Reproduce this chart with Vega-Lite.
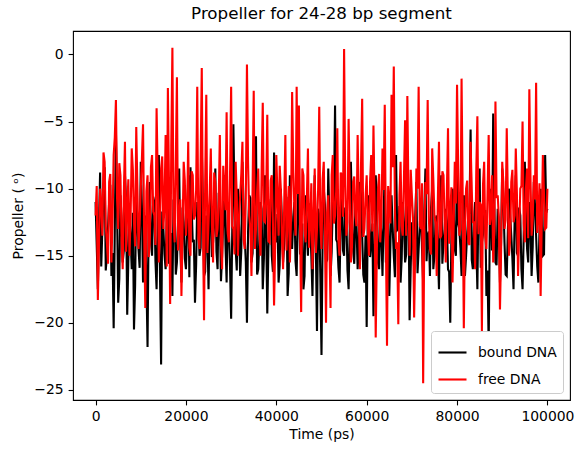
{
  "$schema": "https://vega.github.io/schema/vega-lite/v6.json",
  "width": 497,
  "height": 369,
  "autosize": {"type": "none"},
  "padding": {"left": 73, "top": 31, "right": 13, "bottom": 53},
  "background": "white",
  "config": {
    "font": "DejaVu Sans",
    "view": {"stroke": "black", "strokeWidth": 1.1},
    "axis": {"grid": false, "domain": false, "tickColor": "black", "tickWidth": 1.1, "tickSize": 4.9, "labelPadding": 4.9, "labelColor": "black", "labelFontSize": 13.9, "titleFontSize": 13.9, "titleFontWeight": "normal", "titleColor": "black", "labelFont": "DejaVu Sans", "titleFont": "DejaVu Sans"},
    "title": {"font": "DejaVu Sans", "fontSize": 16.7, "fontWeight": "normal", "color": "black", "offset": 8}
  },
  "title": {"text": "Propeller for 24-28 bp segment", "anchor": "middle"},
  "data": {"values": [
{"t":0,"bound DNA":-11.0,"free DNA":-12.0},
{"t":500,"bound DNA":-17.5,"free DNA":-18.3},
{"t":1000,"bound DNA":-8.8,"free DNA":-10.0},
{"t":1500,"bound DNA":-13.0,"free DNA":-13.5},
{"t":2000,"bound DNA":-8.4,"free DNA":-8.0},
{"t":2500,"bound DNA":-15.0,"free DNA":-14.0},
{"t":3000,"bound DNA":-11.0,"free DNA":-9.5},
{"t":3500,"bound DNA":-16.5,"free DNA":-15.5},
{"t":4000,"bound DNA":-20.4,"free DNA":-7.5},
{"t":4500,"bound DNA":-5.8,"free DNA":-3.4},
{"t":5000,"bound DNA":-18.5,"free DNA":-13.0},
{"t":5500,"bound DNA":-10.5,"free DNA":-9.0},
{"t":6000,"bound DNA":-15.5,"free DNA":-16.0},
{"t":6500,"bound DNA":-9.0,"free DNA":-6.5},
{"t":7000,"bound DNA":-19.4,"free DNA":-11.5},
{"t":7500,"bound DNA":-12.0,"free DNA":-15.0},
{"t":8000,"bound DNA":-16.0,"free DNA":-7.0},
{"t":8500,"bound DNA":-20.5,"free DNA":-12.5},
{"t":9000,"bound DNA":-10.0,"free DNA":-5.4},
{"t":9500,"bound DNA":-14.5,"free DNA":-14.5},
{"t":10000,"bound DNA":-8.0,"free DNA":-10.0},
{"t":10500,"bound DNA":-17.0,"free DNA":-5.2},
{"t":11000,"bound DNA":-12.0,"free DNA":-18.9},
{"t":11500,"bound DNA":-21.8,"free DNA":-9.0},
{"t":12000,"bound DNA":-9.5,"free DNA":-14.0},
{"t":12500,"bound DNA":-15.0,"free DNA":-7.5},
{"t":13000,"bound DNA":-11.0,"free DNA":-12.0},
{"t":13500,"bound DNA":-17.5,"free DNA":-4.0},
{"t":14000,"bound DNA":-7.5,"free DNA":-15.5},
{"t":14500,"bound DNA":-23.1,"free DNA":-8.5},
{"t":15000,"bound DNA":-13.0,"free DNA":-13.0},
{"t":15500,"bound DNA":-16.0,"free DNA":-6.0},
{"t":16000,"bound DNA":-9.5,"free DNA":-2.5},
{"t":16500,"bound DNA":-14.5,"free DNA":-18.6},
{"t":17000,"bound DNA":-18.0,"free DNA":0.5},
{"t":17500,"bound DNA":-11.0,"free DNA":-14.0},
{"t":18000,"bound DNA":-15.5,"free DNA":-1.7},
{"t":18500,"bound DNA":-8.5,"free DNA":-12.0},
{"t":19000,"bound DNA":-17.0,"free DNA":-18.0},
{"t":19500,"bound DNA":-12.5,"free DNA":-8.0},
{"t":20000,"bound DNA":-16.0,"free DNA":-13.5},
{"t":20500,"bound DNA":-9.0,"free DNA":-6.5},
{"t":21000,"bound DNA":-8.4,"free DNA":-15.0},
{"t":21500,"bound DNA":-14.0,"free DNA":-9.0},
{"t":22000,"bound DNA":-18.5,"free DNA":-12.0},
{"t":22500,"bound DNA":-11.0,"free DNA":-2.4},
{"t":23000,"bound DNA":-15.0,"free DNA":-14.5},
{"t":23500,"bound DNA":-7.0,"free DNA":-1.0},
{"t":24000,"bound DNA":-16.5,"free DNA":-19.8},
{"t":24500,"bound DNA":-12.0,"free DNA":-3.0},
{"t":25000,"bound DNA":-17.5,"free DNA":-12.5},
{"t":25500,"bound DNA":-10.0,"free DNA":-7.0},
{"t":26000,"bound DNA":-14.0,"free DNA":-15.5},
{"t":26500,"bound DNA":-8.5,"free DNA":-9.5},
{"t":27000,"bound DNA":-16.0,"free DNA":-13.0},
{"t":27500,"bound DNA":-11.5,"free DNA":-6.0},
{"t":28000,"bound DNA":-15.0,"free DNA":-16.0},
{"t":28500,"bound DNA":-9.0,"free DNA":-10.0},
{"t":29000,"bound DNA":-17.0,"free DNA":-4.3},
{"t":29500,"bound DNA":-13.0,"free DNA":-14.0},
{"t":30000,"bound DNA":-19.7,"free DNA":-2.4},
{"t":30500,"bound DNA":-5.2,"free DNA":-13.0},
{"t":31000,"bound DNA":-14.5,"free DNA":-8.0},
{"t":31500,"bound DNA":-10.0,"free DNA":-15.0},
{"t":32000,"bound DNA":-16.5,"free DNA":-10.5},
{"t":32500,"bound DNA":-8.0,"free DNA":-6.5},
{"t":33000,"bound DNA":-13.5,"free DNA":-14.5},
{"t":33500,"bound DNA":-20.0,"free DNA":-0.75},
{"t":34000,"bound DNA":-10.5,"free DNA":-12.0},
{"t":34500,"bound DNA":-15.5,"free DNA":-16.5},
{"t":35000,"bound DNA":-8.5,"free DNA":-2.7},
{"t":35500,"bound DNA":-6.1,"free DNA":-13.0},
{"t":36000,"bound DNA":-16.0,"free DNA":-8.5},
{"t":36500,"bound DNA":-11.0,"free DNA":-15.0},
{"t":37000,"bound DNA":-17.5,"free DNA":-3.6},
{"t":37500,"bound DNA":-9.0,"free DNA":-12.5},
{"t":38000,"bound DNA":-19.3,"free DNA":-4.5},
{"t":38500,"bound DNA":-12.0,"free DNA":-14.0},
{"t":39000,"bound DNA":-15.0,"free DNA":-9.0},
{"t":39500,"bound DNA":-7.3,"free DNA":-18.7},
{"t":40000,"bound DNA":-14.0,"free DNA":-7.5},
{"t":40500,"bound DNA":-17.0,"free DNA":-13.5},
{"t":41000,"bound DNA":-10.0,"free DNA":-10.0},
{"t":41500,"bound DNA":-15.5,"free DNA":-16.0},
{"t":42000,"bound DNA":-12.0,"free DNA":-6.0},
{"t":42500,"bound DNA":-18.0,"free DNA":-12.0},
{"t":43000,"bound DNA":-9.0,"free DNA":-15.5},
{"t":43500,"bound DNA":-14.5,"free DNA":-2.8},
{"t":44000,"bound DNA":-11.0,"free DNA":-11.5},
{"t":44500,"bound DNA":-16.5,"free DNA":-2.4},
{"t":45000,"bound DNA":-8.0,"free DNA":-3.8},
{"t":45500,"bound DNA":-13.5,"free DNA":-19.2},
{"t":46000,"bound DNA":-17.5,"free DNA":-9.0},
{"t":46500,"bound DNA":-10.5,"free DNA":-14.0},
{"t":47000,"bound DNA":-15.0,"free DNA":-7.0},
{"t":47500,"bound DNA":-12.5,"free DNA":-12.5},
{"t":48000,"bound DNA":-18.0,"free DNA":-16.0},
{"t":48500,"bound DNA":-9.0,"free DNA":-8.5},
{"t":49000,"bound DNA":-20.6,"free DNA":-13.0},
{"t":49500,"bound DNA":-12.0,"free DNA":-3.9},
{"t":50000,"bound DNA":-22.4,"free DNA":-14.5},
{"t":50500,"bound DNA":-10.0,"free DNA":-8.0},
{"t":51000,"bound DNA":-15.5,"free DNA":-20.0},
{"t":51500,"bound DNA":-8.5,"free DNA":-10.5},
{"t":52000,"bound DNA":-16.5,"free DNA":-18.9},
{"t":52500,"bound DNA":-11.0,"free DNA":-7.5},
{"t":53000,"bound DNA":-3.8,"free DNA":-12.0},
{"t":53500,"bound DNA":-14.0,"free DNA":-5.5},
{"t":54000,"bound DNA":-17.0,"free DNA":-15.0},
{"t":54500,"bound DNA":-9.5,"free DNA":-9.0},
{"t":55000,"bound DNA":-15.0,"free DNA":0.4},
{"t":55500,"bound DNA":-12.0,"free DNA":-13.5},
{"t":56000,"bound DNA":-17.5,"free DNA":-4.8},
{"t":56500,"bound DNA":-8.0,"free DNA":-15.5},
{"t":57000,"bound DNA":-14.5,"free DNA":-9.5},
{"t":57500,"bound DNA":-11.0,"free DNA":-12.0},
{"t":58000,"bound DNA":-16.0,"free DNA":-6.0},
{"t":58500,"bound DNA":-9.5,"free DNA":-16.0},
{"t":59000,"bound DNA":-13.5,"free DNA":-3.3},
{"t":59500,"bound DNA":-17.0,"free DNA":-13.0},
{"t":60000,"bound DNA":-20.3,"free DNA":-9.0},
{"t":60500,"bound DNA":-10.5,"free DNA":-15.0},
{"t":61000,"bound DNA":-14.0,"free DNA":-7.5},
{"t":61500,"bound DNA":-19.5,"free DNA":-5.3},
{"t":62000,"bound DNA":-9.0,"free DNA":-21.1},
{"t":62500,"bound DNA":-15.5,"free DNA":-10.0},
{"t":63000,"bound DNA":-12.0,"free DNA":-14.0},
{"t":63500,"bound DNA":-16.5,"free DNA":-7.0},
{"t":64000,"bound DNA":-8.5,"free DNA":-3.75},
{"t":64500,"bound DNA":-14.0,"free DNA":-21.7},
{"t":65000,"bound DNA":-18.0,"free DNA":-11.0},
{"t":65500,"bound DNA":-10.5,"free DNA":-3.0},
{"t":66000,"bound DNA":-15.0,"free DNA":-0.9},
{"t":66500,"bound DNA":-7.5,"free DNA":-14.5},
{"t":67000,"bound DNA":-13.0,"free DNA":-20.1},
{"t":67500,"bound DNA":-17.0,"free DNA":-8.0},
{"t":68000,"bound DNA":-11.0,"free DNA":-13.5},
{"t":68500,"bound DNA":-15.5,"free DNA":-4.9},
{"t":69000,"bound DNA":-8.0,"free DNA":-3.1},
{"t":69500,"bound DNA":-19.8,"free DNA":-15.0},
{"t":70000,"bound DNA":-12.5,"free DNA":-10.5},
{"t":70500,"bound DNA":-16.0,"free DNA":-19.6},
{"t":71000,"bound DNA":-9.5,"free DNA":-8.5},
{"t":71500,"bound DNA":-14.5,"free DNA":-2.4},
{"t":72000,"bound DNA":-11.0,"free DNA":-13.0},
{"t":72500,"bound DNA":-17.0,"free DNA":-24.5},
{"t":73000,"bound DNA":-8.5,"free DNA":-9.5},
{"t":73500,"bound DNA":-13.5,"free DNA":-3.4},
{"t":74000,"bound DNA":-16.5,"free DNA":-14.5},
{"t":74500,"bound DNA":-10.0,"free DNA":-7.0},
{"t":75000,"bound DNA":-15.0,"free DNA":-12.0},
{"t":75500,"bound DNA":-12.0,"free DNA":-16.5},
{"t":76000,"bound DNA":-17.5,"free DNA":-6.5},
{"t":76500,"bound DNA":-9.0,"free DNA":-13.5},
{"t":77000,"bound DNA":-14.0,"free DNA":-9.0},
{"t":77500,"bound DNA":-11.5,"free DNA":-15.5},
{"t":78000,"bound DNA":-16.0,"free DNA":-5.5},
{"t":78500,"bound DNA":-20.0,"free DNA":-12.0},
{"t":79000,"bound DNA":-10.0,"free DNA":-17.0},
{"t":79500,"bound DNA":-14.5,"free DNA":-8.0},
{"t":80000,"bound DNA":-7.0,"free DNA":-2.25},
{"t":80500,"bound DNA":-13.0,"free DNA":-13.5},
{"t":81000,"bound DNA":-16.5,"free DNA":-1.8},
{"t":81500,"bound DNA":-10.5,"free DNA":-20.4},
{"t":82000,"bound DNA":-15.0,"free DNA":-10.0},
{"t":82500,"bound DNA":-12.0,"free DNA":-14.0},
{"t":83000,"bound DNA":-5.6,"free DNA":-6.5},
{"t":83500,"bound DNA":-16.0,"free DNA":-12.5},
{"t":84000,"bound DNA":-11.0,"free DNA":-16.0},
{"t":84500,"bound DNA":-17.5,"free DNA":-4.6},
{"t":85000,"bound DNA":-8.5,"free DNA":-11.0},
{"t":85500,"bound DNA":-14.0,"free DNA":-20.6},
{"t":86000,"bound DNA":-12.0,"free DNA":-8.0},
{"t":86500,"bound DNA":-18.0,"free DNA":-14.5},
{"t":87000,"bound DNA":-21.7,"free DNA":-6.0},
{"t":87500,"bound DNA":-10.0,"free DNA":-12.0},
{"t":88000,"bound DNA":-4.4,"free DNA":-15.5},
{"t":88500,"bound DNA":-15.5,"free DNA":-3.5},
{"t":89000,"bound DNA":-11.5,"free DNA":-10.5},
{"t":89500,"bound DNA":-17.0,"free DNA":-19.0},
{"t":90000,"bound DNA":-8.5,"free DNA":-8.0},
{"t":90500,"bound DNA":-14.0,"free DNA":-13.0},
{"t":91000,"bound DNA":-16.5,"free DNA":-5.5},
{"t":91500,"bound DNA":-10.0,"free DNA":-15.0},
{"t":92000,"bound DNA":-13.5,"free DNA":-9.5},
{"t":92500,"bound DNA":-17.5,"free DNA":-12.5},
{"t":93000,"bound DNA":-9.0,"free DNA":-7.0},
{"t":93500,"bound DNA":-15.0,"free DNA":-16.5},
{"t":94000,"bound DNA":-12.0,"free DNA":-10.0},
{"t":94500,"bound DNA":-17.5,"free DNA":-5.0},
{"t":95000,"bound DNA":-8.0,"free DNA":-14.0},
{"t":95500,"bound DNA":-14.5,"free DNA":-8.5},
{"t":96000,"bound DNA":-11.0,"free DNA":-2.6},
{"t":96500,"bound DNA":-16.5,"free DNA":-13.5},
{"t":97000,"bound DNA":-9.5,"free DNA":-9.0},
{"t":97500,"bound DNA":-13.5,"free DNA":-2.1},
{"t":98000,"bound DNA":-17.0,"free DNA":-12.0},
{"t":98500,"bound DNA":-10.0,"free DNA":-18.0},
{"t":99000,"bound DNA":-15.0,"free DNA":-7.5},
{"t":99500,"bound DNA":-7.5,"free DNA":-13.0},
{"t":100000,"bound DNA":-11.5,"free DNA":-10.0},
{"t":250,"bound DNA":-14.2,"free DNA":-9.8},
{"t":750,"bound DNA":-12.6,"free DNA":-14.1},
{"t":1250,"bound DNA":-15.8,"free DNA":-11.2},
{"t":1750,"bound DNA":-10.4,"free DNA":-7.3},
{"t":2250,"bound DNA":-16.1,"free DNA":-12.8},
{"t":2750,"bound DNA":-12.9,"free DNA":-15.6},
{"t":3250,"bound DNA":-9.7,"free DNA":-8.9},
{"t":3750,"bound DNA":-14.8,"free DNA":-12.4},
{"t":4250,"bound DNA":-13.1,"free DNA":-6.2},
{"t":4750,"bound DNA":-11.2,"free DNA":-10.7},
{"t":5250,"bound DNA":-16.7,"free DNA":-8.1},
{"t":5750,"bound DNA":-12.3,"free DNA":-13.9},
{"t":6250,"bound DNA":-14.6,"free DNA":-10.4},
{"t":6750,"bound DNA":-10.9,"free DNA":-14.7},
{"t":7250,"bound DNA":-15.3,"free DNA":-9.3},
{"t":7750,"bound DNA":-13.7,"free DNA":-12.1},
{"t":8250,"bound DNA":-11.8,"free DNA":-8.6},
{"t":8750,"bound DNA":-17.2,"free DNA":-14.3},
{"t":9250,"bound DNA":-12.4,"free DNA":-9.9},
{"t":9750,"bound DNA":-15.9,"free DNA":-12.6},
{"t":10250,"bound DNA":-11.3,"free DNA":-7.8},
{"t":10750,"bound DNA":-14.1,"free DNA":-13.4},
{"t":11250,"bound DNA":-16.8,"free DNA":-10.2},
{"t":11750,"bound DNA":-12.2,"free DNA":-15.1},
{"t":12250,"bound DNA":-13.9,"free DNA":-8.4},
{"t":12750,"bound DNA":-10.6,"free DNA":-11.7},
{"t":13250,"bound DNA":-15.4,"free DNA":-14.2},
{"t":13750,"bound DNA":-12.8,"free DNA":-9.1},
{"t":14250,"bound DNA":-16.3,"free DNA":-12.9},
{"t":14750,"bound DNA":-11.7,"free DNA":-7.6},
{"t":15250,"bound DNA":-14.9,"free DNA":-11.3},
{"t":15750,"bound DNA":-12.1,"free DNA":-15.8},
{"t":16250,"bound DNA":-15.6,"free DNA":-9.7},
{"t":16750,"bound DNA":-13.3,"free DNA":-6.8},
{"t":17250,"bound DNA":-10.8,"free DNA":-12.4},
{"t":17750,"bound DNA":-16.4,"free DNA":-8.2},
{"t":18250,"bound DNA":-12.7,"free DNA":-14.6},
{"t":18750,"bound DNA":-14.3,"free DNA":-10.8},
{"t":19250,"bound DNA":-11.4,"free DNA":-13.2},
{"t":19750,"bound DNA":-15.2,"free DNA":-9.4},
{"t":20250,"bound DNA":-12.9,"free DNA":-11.9},
{"t":20750,"bound DNA":-16.6,"free DNA":-14.4},
{"t":21250,"bound DNA":-11.1,"free DNA":-8.7},
{"t":21750,"bound DNA":-13.8,"free DNA":-12.3},
{"t":22250,"bound DNA":-15.7,"free DNA":-10.1},
{"t":22750,"bound DNA":-12.2,"free DNA":-13.7},
{"t":23250,"bound DNA":-14.4,"free DNA":-7.9},
{"t":23750,"bound DNA":-10.9,"free DNA":-12.2},
{"t":24250,"bound DNA":-16.2,"free DNA":-9.6},
{"t":24750,"bound DNA":-13.5,"free DNA":-14.8},
{"t":25250,"bound DNA":-11.9,"free DNA":-10.3},
{"t":25750,"bound DNA":-15.1,"free DNA":-12.7},
{"t":26250,"bound DNA":-12.6,"free DNA":-8.8},
{"t":26750,"bound DNA":-14.7,"free DNA":-13.6},
{"t":27250,"bound DNA":-10.3,"free DNA":-10.9},
{"t":27750,"bound DNA":-16.9,"free DNA":-14.1},
{"t":28250,"bound DNA":-12.4,"free DNA":-8.3},
{"t":28750,"bound DNA":-14.2,"free DNA":-11.6},
{"t":29250,"bound DNA":-11.6,"free DNA":-13.3},
{"t":29750,"bound DNA":-15.8,"free DNA":-9.2},
{"t":30250,"bound DNA":-13.1,"free DNA":-12.8},
{"t":30750,"bound DNA":-11.0,"free DNA":-14.9},
{"t":31250,"bound DNA":-16.1,"free DNA":-10.6},
{"t":31750,"bound DNA":-12.8,"free DNA":-12.2},
{"t":32250,"bound DNA":-14.6,"free DNA":-8.9},
{"t":32750,"bound DNA":-11.3,"free DNA":-13.8},
{"t":33250,"bound DNA":-15.5,"free DNA":-10.7},
{"t":33750,"bound DNA":-13.2,"free DNA":-8.1},
{"t":34250,"bound DNA":-10.7,"free DNA":-12.9},
{"t":34750,"bound DNA":-14.8,"free DNA":-9.9},
{"t":35250,"bound DNA":-12.3,"free DNA":-14.5},
{"t":35750,"bound DNA":-16.4,"free DNA":-10.2},
{"t":36250,"bound DNA":-13.7,"free DNA":-13.1},
{"t":36750,"bound DNA":-11.5,"free DNA":-8.6},
{"t":37250,"bound DNA":-15.2,"free DNA":-12.4},
{"t":37750,"bound DNA":-12.9,"free DNA":-10.8},
{"t":38250,"bound DNA":-14.5,"free DNA":-13.9},
{"t":38750,"bound DNA":-10.8,"free DNA":-9.4},
{"t":39250,"bound DNA":-16.2,"free DNA":-12.6},
{"t":39750,"bound DNA":-13.4,"free DNA":-14.2},
{"t":40250,"bound DNA":-11.9,"free DNA":-10.5},
{"t":40750,"bound DNA":-15.7,"free DNA":-8.3},
{"t":41250,"bound DNA":-12.5,"free DNA":-13.7},
{"t":41750,"bound DNA":-14.1,"free DNA":-11.1},
{"t":42250,"bound DNA":-10.6,"free DNA":-14.6},
{"t":42750,"bound DNA":-16.3,"free DNA":-9.8},
{"t":43250,"bound DNA":-13.0,"free DNA":-12.2},
{"t":43750,"bound DNA":-12.1,"free DNA":-8.7},
{"t":44250,"bound DNA":-15.4,"free DNA":-13.5},
{"t":44750,"bound DNA":-11.7,"free DNA":-10.4},
{"t":45250,"bound DNA":-14.9,"free DNA":-12.9},
{"t":45750,"bound DNA":-12.6,"free DNA":-8.5},
{"t":46250,"bound DNA":-16.5,"free DNA":-13.1},
{"t":46750,"bound DNA":-13.3,"free DNA":-10.9},
{"t":47250,"bound DNA":-11.1,"free DNA":-14.4},
{"t":47750,"bound DNA":-15.0,"free DNA":-9.6},
{"t":48250,"bound DNA":-12.8,"free DNA":-12.3},
{"t":48750,"bound DNA":-14.4,"free DNA":-14.8},
{"t":49250,"bound DNA":-11.5,"free DNA":-10.1},
{"t":49750,"bound DNA":-16.7,"free DNA":-12.7},
{"t":50250,"bound DNA":-13.6,"free DNA":-9.3},
{"t":50750,"bound DNA":-11.2,"free DNA":-13.4},
{"t":51250,"bound DNA":-15.3,"free DNA":-11.8},
{"t":51750,"bound DNA":-12.4,"free DNA":-14.1},
{"t":52250,"bound DNA":-14.7,"free DNA":-9.0},
{"t":52750,"bound DNA":-10.9,"free DNA":-12.6},
{"t":53250,"bound DNA":-13.8,"free DNA":-10.2},
{"t":53750,"bound DNA":-15.9,"free DNA":-13.9},
{"t":54250,"bound DNA":-12.2,"free DNA":-8.8},
{"t":54750,"bound DNA":-14.6,"free DNA":-12.1},
{"t":55250,"bound DNA":-11.4,"free DNA":-9.7},
{"t":55750,"bound DNA":-16.1,"free DNA":-12.5},
{"t":56250,"bound DNA":-13.0,"free DNA":-10.3},
{"t":56750,"bound DNA":-11.8,"free DNA":-14.3},
{"t":57250,"bound DNA":-15.6,"free DNA":-9.1},
{"t":57750,"bound DNA":-12.7,"free DNA":-12.8},
{"t":58250,"bound DNA":-14.3,"free DNA":-11.4},
{"t":58750,"bound DNA":-10.5,"free DNA":-8.2},
{"t":59250,"bound DNA":-16.4,"free DNA":-13.6},
{"t":59750,"bound DNA":-13.5,"free DNA":-10.6},
{"t":60250,"bound DNA":-11.9,"free DNA":-12.9},
{"t":60750,"bound DNA":-15.1,"free DNA":-9.5},
{"t":61250,"bound DNA":-12.6,"free DNA":-13.2},
{"t":61750,"bound DNA":-14.8,"free DNA":-11.0},
{"t":62250,"bound DNA":-11.2,"free DNA":-14.7},
{"t":62750,"bound DNA":-16.0,"free DNA":-8.9},
{"t":63250,"bound DNA":-13.4,"free DNA":-12.3},
{"t":63750,"bound DNA":-12.0,"free DNA":-10.1},
{"t":64250,"bound DNA":-15.5,"free DNA":-13.8},
{"t":64750,"bound DNA":-11.6,"free DNA":-9.8},
{"t":65250,"bound DNA":-14.2,"free DNA":-12.6},
{"t":65750,"bound DNA":-12.9,"free DNA":-8.4},
{"t":66250,"bound DNA":-16.6,"free DNA":-11.7},
{"t":66750,"bound DNA":-13.1,"free DNA":-14.0},
{"t":67250,"bound DNA":-11.3,"free DNA":-10.5},
{"t":67750,"bound DNA":-15.2,"free DNA":-12.8},
{"t":68250,"bound DNA":-12.5,"free DNA":-9.2},
{"t":68750,"bound DNA":-14.9,"free DNA":-13.5},
{"t":69250,"bound DNA":-11.0,"free DNA":-10.9},
{"t":69750,"bound DNA":-15.8,"free DNA":-8.6},
{"t":70250,"bound DNA":-13.6,"free DNA":-12.2},
{"t":70750,"bound DNA":-12.1,"free DNA":-14.4},
{"t":71250,"bound DNA":-16.3,"free DNA":-10.0},
{"t":71750,"bound DNA":-12.8,"free DNA":-12.7},
{"t":72250,"bound DNA":-14.5,"free DNA":-9.6},
{"t":72750,"bound DNA":-11.7,"free DNA":-13.3},
{"t":73250,"bound DNA":-15.4,"free DNA":-10.4},
{"t":73750,"bound DNA":-13.2,"free DNA":-12.0},
{"t":74250,"bound DNA":-11.4,"free DNA":-14.9},
{"t":74750,"bound DNA":-16.0,"free DNA":-9.3},
{"t":75250,"bound DNA":-12.3,"free DNA":-12.6},
{"t":75750,"bound DNA":-14.7,"free DNA":-10.8},
{"t":76250,"bound DNA":-10.9,"free DNA":-13.7},
{"t":76750,"bound DNA":-15.6,"free DNA":-8.7},
{"t":77250,"bound DNA":-13.0,"free DNA":-12.4},
{"t":77750,"bound DNA":-12.4,"free DNA":-10.2},
{"t":78250,"bound DNA":-16.2,"free DNA":-14.1},
{"t":78750,"bound DNA":-13.7,"free DNA":-9.9},
{"t":79250,"bound DNA":-11.5,"free DNA":-12.8},
{"t":79750,"bound DNA":-15.0,"free DNA":-11.1},
{"t":80250,"bound DNA":-12.6,"free DNA":-8.5},
{"t":80750,"bound DNA":-14.4,"free DNA":-13.0},
{"t":81250,"bound DNA":-11.1,"free DNA":-10.6},
{"t":81750,"bound DNA":-16.5,"free DNA":-12.9},
{"t":82250,"bound DNA":-13.3,"free DNA":-9.4},
{"t":82750,"bound DNA":-11.8,"free DNA":-14.2},
{"t":83250,"bound DNA":-15.3,"free DNA":-10.1},
{"t":83750,"bound DNA":-12.7,"free DNA":-12.5},
{"t":84250,"bound DNA":-14.1,"free DNA":-8.8},
{"t":84750,"bound DNA":-10.8,"free DNA":-13.4},
{"t":85250,"bound DNA":-15.9,"free DNA":-11.2},
{"t":85750,"bound DNA":-13.4,"free DNA":-9.7},
{"t":86250,"bound DNA":-11.6,"free DNA":-13.6},
{"t":86750,"bound DNA":-16.1,"free DNA":-10.3},
{"t":87250,"bound DNA":-12.9,"free DNA":-12.7},
{"t":87750,"bound DNA":-14.6,"free DNA":-9.0},
{"t":88250,"bound DNA":-11.3,"free DNA":-13.2},
{"t":88750,"bound DNA":-15.7,"free DNA":-10.7},
{"t":89250,"bound DNA":-12.5,"free DNA":-12.1},
{"t":89750,"bound DNA":-14.0,"free DNA":-14.6},
{"t":90250,"bound DNA":-10.7,"free DNA":-9.5},
{"t":90750,"bound DNA":-16.4,"free DNA":-12.3},
{"t":91250,"bound DNA":-13.1,"free DNA":-10.9},
{"t":91750,"bound DNA":-11.9,"free DNA":-13.8},
{"t":92250,"bound DNA":-15.2,"free DNA":-8.6},
{"t":92750,"bound DNA":-12.2,"free DNA":-12.0},
{"t":93250,"bound DNA":-14.8,"free DNA":-10.4},
{"t":93750,"bound DNA":-11.4,"free DNA":-13.1},
{"t":94250,"bound DNA":-16.0,"free DNA":-9.8},
{"t":94750,"bound DNA":-13.6,"free DNA":-12.6},
{"t":95250,"bound DNA":-12.0,"free DNA":-10.0},
{"t":95750,"bound DNA":-15.5,"free DNA":-13.7},
{"t":96250,"bound DNA":-12.7,"free DNA":-9.1},
{"t":96750,"bound DNA":-14.3,"free DNA":-12.2},
{"t":97250,"bound DNA":-11.2,"free DNA":-10.8},
{"t":97750,"bound DNA":-15.8,"free DNA":-13.3},
{"t":98250,"bound DNA":-13.0,"free DNA":-9.6},
{"t":98750,"bound DNA":-12.3,"free DNA":-12.4},
{"t":99250,"bound DNA":-14.9,"free DNA":-10.5},
{"t":99750,"bound DNA":-11.8,"free DNA":-12.9}
  ]},
  "transform": [{"fold": ["bound DNA", "free DNA"], "as": ["series", "value"]}],
  "mark": {"type": "line", "strokeWidth": 2.1, "clip": true},
  "encoding": {
    "x": {"field": "t", "type": "quantitative", "title": "Time (ps)",
      "scale": {"domain": [-5000, 105000], "nice": false, "zero": false},
      "axis": {"values": [0, 20000, 40000, 60000, 80000, 100000], "format": "d", "labelFlush": false, "titlePadding": 4}},
    "y": {"field": "value", "type": "quantitative", "title": "Propeller ( ᵒ)",
      "scale": {"domain": [-25.75, 1.75], "nice": false, "zero": false},
      "axis": {"values": [-25, -20, -15, -10, -5, 0], "format": "d", "labelFlush": false, "titlePadding": 8}},
    "color": {"field": "series", "type": "nominal",
      "scale": {"domain": ["bound DNA", "free DNA"], "range": ["black", "red"]},
      "legend": {"title": null, "orient": "bottom-right", "offset": 7, "fillColor": "white", "strokeColor": "#cccccc", "cornerRadius": 3, "padding": 6, "labelFontSize": 13.9, "labelFont": "DejaVu Sans", "labelColor": "black", "symbolType": "stroke", "symbolSize": 784, "symbolStrokeWidth": 2.1, "rowPadding": 4, "labelOffset": 10}}
  }
}
